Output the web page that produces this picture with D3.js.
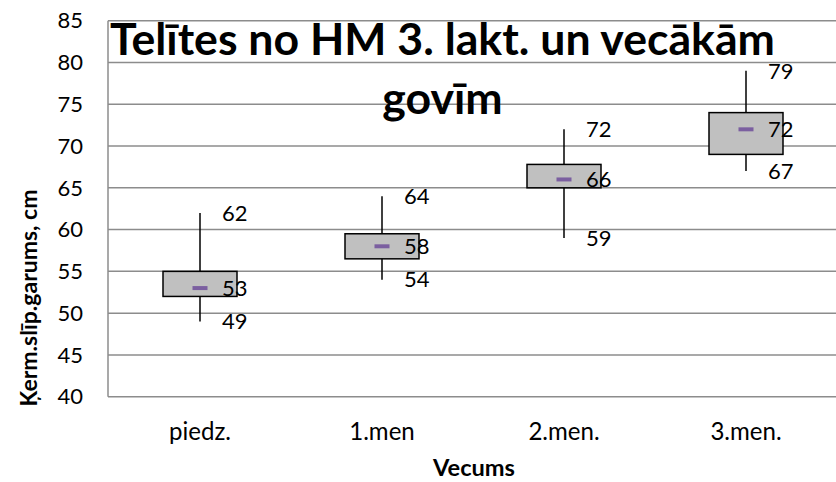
<!DOCTYPE html>
<meta charset="utf-8">
<script src="https://d3js.org/d3.v7.min.js"></script>
<style>
  body { margin: 0; background: #fff; }
  text { font-family: Lato, "Open Sans", sans-serif; }
</style>
<svg id="chart" width="836" height="482"></svg>
<script>
// data
const categories = ["piedz.", "1.men", "2.men.", "3.men."];
const highs   = [62, 64, 72, 79];
const boxTop  = [55, 59.5, 67.8, 74];
const medians = [53, 58, 66, 72];
const boxLow  = [52, 56.5, 65, 69];
const lows    = [49, 54, 59, 67];
const yTicks  = [40, 45, 50, 55, 60, 65, 70, 75, 80, 85];
const titleLines = ["Telītes no HM 3. lakt. un vecākām", "govīm"];

const svg = d3.select("#chart");
const plotLeft = 108, plotRight = 836, plotTop = 20.7, plotBottom = 396.7;

const x = d3.scaleBand().domain(categories).range([plotLeft + 1, plotRight + 1]);
const y = d3.scaleLinear().domain([40, 85]).range([plotBottom, plotTop]);

// scale a text's font so it spans the given width
function fitWidth(sel, base, width) {
  const w = sel.node().getComputedTextLength();
  return base * width / w;
}

// gridlines
svg.append("g")
  .selectAll("line")
  .data(yTicks)
  .join("line")
    .attr("x1", plotLeft).attr("x2", plotRight)
    .attr("y1", d => y(d)).attr("y2", d => y(d))
    .attr("stroke", "#8c8c8c").attr("stroke-width", 1.5);

// left axis line
svg.append("line")
  .attr("x1", plotLeft).attr("x2", plotLeft)
  .attr("y1", plotTop).attr("y2", plotBottom)
  .attr("stroke", "#8c8c8c").attr("stroke-width", 1.5);

// y tick labels
svg.append("g")
  .selectAll("text")
  .data(yTicks)
  .join("text")
    .attr("x", 83).attr("y", d => y(d))
    .attr("dy", "0.35em")
    .attr("text-anchor", "end")
    .attr("font-size", 22)
    .text(d => d);

// x tick labels
const xLabels = svg.append("g")
  .selectAll("text")
  .data(categories)
  .join("text")
    .attr("x", d => x(d) + x.bandwidth() / 2)
    .attr("y", 440)
    .attr("text-anchor", "middle")
    .attr("font-size", 20)
    .text(d => d);
xLabels.attr("font-size", fitWidth(xLabels.filter((d, i) => i === 0), 20, 62));

const idx = d3.range(categories.length);
const cx = i => x(categories[i]) + x.bandwidth() / 2;
const boxW = 74;

// whiskers
svg.append("g")
  .selectAll("line")
  .data(idx)
  .join("line")
    .attr("x1", cx).attr("x2", cx)
    .attr("y1", i => y(highs[i])).attr("y2", i => y(lows[i]))
    .attr("stroke", "#000").attr("stroke-width", 1.5);

// boxes
svg.append("g")
  .selectAll("rect")
  .data(idx)
  .join("rect")
    .attr("x", i => cx(i) - boxW / 2)
    .attr("y", i => y(boxTop[i]))
    .attr("width", boxW)
    .attr("height", i => y(boxLow[i]) - y(boxTop[i]))
    .attr("fill", "#c0c0c0")
    .attr("stroke", "#000").attr("stroke-width", 1.5);

// median markers
svg.append("g")
  .selectAll("line")
  .data(idx)
  .join("line")
    .attr("x1", i => cx(i) - 7.5).attr("x2", i => cx(i) + 7.5)
    .attr("y1", i => y(medians[i])).attr("y2", i => y(medians[i]))
    .attr("stroke", "#7b5fa0").attr("stroke-width", 4);

// value labels
const labelRows = [highs, medians, lows];
labelRows.forEach(vals => {
  svg.append("g")
    .selectAll("text")
    .data(idx)
    .join("text")
      .attr("x", i => cx(i) + 22)
      .attr("y", i => y(vals[i]))
      .attr("dy", "0.35em")
      .attr("font-size", 22)
      .text(i => vals[i]);
});

// title
const title = svg.append("g");
title.selectAll("text")
  .data(titleLines)
  .join("text")
    .attr("x", 442.5)
    .attr("y", (d, i) => 55 + i * 59)
    .attr("text-anchor", "middle")
    .attr("font-weight", "bold")
    .attr("font-size", 40)
    .text(d => d);
title.selectAll("text").attr("font-size", fitWidth(title.select("text"), 40, 665));

// axis titles
const xTitle = svg.append("text")
  .attr("x", 474).attr("y", 476)
  .attr("text-anchor", "middle")
  .attr("font-weight", "bold")
  .attr("font-size", 18)
  .text("Vecums");
xTitle.attr("font-size", fitWidth(xTitle, 18, 82));

const yTitle = svg.append("text")
  .attr("transform", "translate(37,298) rotate(-90)")
  .attr("text-anchor", "middle")
  .attr("font-weight", "bold")
  .attr("font-size", 20)
  .text("Ķerm.slīp.garums, cm");
yTitle.attr("font-size", fitWidth(yTitle, 20, 217));
</script>
